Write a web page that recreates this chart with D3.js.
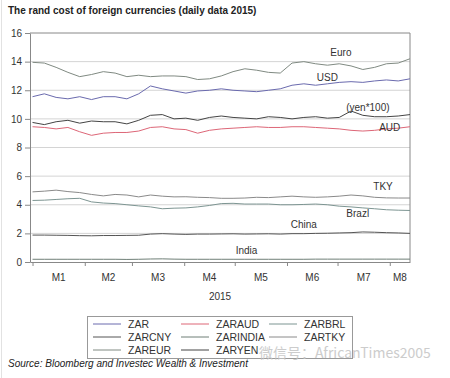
<!DOCTYPE html>
<html>
<head>
<meta charset="utf-8">
<script src="https://cdn.jsdelivr.net/npm/d3@7"></script>
<style>
  body { margin: 0; background: #fff; }
  svg { display: block; font-family: Arial, "Liberation Sans", sans-serif; }
</style>
</head>
<body>
<div id="chart"></div>
<script>
// weekly readings, 1 Jan 2015 .. 13 Aug 2015
const startDate = new Date(2015, 0, 1);
const dates = d3.range(33).map(i => d3.timeDay.offset(startDate, i * 7));
const months = ["M1", "M2", "M3", "M4", "M5", "M6", "M7", "M8"];
const yTicks = [0, 2, 4, 6, 8, 10, 12, 14, 16];

const zarEur = [13.95, 13.9, 13.6, 13.25, 12.95, 13.1, 13.3, 13.2, 12.95, 13.05, 12.95, 13.0, 13.0, 12.95, 12.75, 12.8, 13.0, 13.3, 13.5, 13.4, 13.25, 13.2, 13.9, 14.0, 13.85, 13.75, 13.85, 13.7, 13.45, 13.6, 13.85, 13.9, 14.2];
const zar = [11.55, 11.75, 11.5, 11.4, 11.55, 11.35, 11.55, 11.55, 11.4, 11.75, 12.3, 12.1, 11.95, 11.8, 11.95, 12.0, 12.1, 12.0, 11.95, 11.9, 12.0, 12.1, 12.35, 12.45, 12.35, 12.45, 12.55, 12.6, 12.55, 12.65, 12.72, 12.65, 12.8];
const zarYen = [9.75, 9.6, 9.8, 9.9, 9.7, 9.85, 9.8, 9.8, 9.65, 9.9, 10.25, 10.3, 10.0, 10.05, 9.9, 10.1, 10.2, 10.1, 10.05, 10.0, 10.15, 10.1, 10.0, 10.1, 10.15, 10.05, 10.1, 10.55, 10.25, 10.15, 10.15, 10.2, 10.3];
const zarAud = [9.45, 9.4, 9.3, 9.4, 9.1, 8.85, 9.0, 9.05, 9.05, 9.15, 9.4, 9.45, 9.3, 9.25, 9.0, 9.2, 9.3, 9.35, 9.4, 9.45, 9.4, 9.4, 9.45, 9.45, 9.4, 9.35, 9.3, 9.2, 9.15, 9.2, 9.3, 9.35, 9.45];
const zarTky = [4.9, 4.95, 5.02, 4.92, 4.85, 4.72, 4.62, 4.72, 4.68, 4.55, 4.68, 4.6, 4.55, 4.56, 4.52, 4.5, 4.45, 4.45, 4.47, 4.52, 4.5, 4.55, 4.6, 4.55, 4.52, 4.55, 4.6, 4.68, 4.62, 4.52, 4.48, 4.47, 4.47];
const zarBrl = [4.3, 4.32, 4.37, 4.42, 4.45, 4.2, 4.12, 4.08, 4.0, 3.92, 3.85, 3.72, 3.76, 3.78, 3.85, 3.95, 4.08, 4.1, 4.05, 4.05, 4.05, 4.0, 4.0, 4.02, 4.05, 4.0, 3.9, 3.85, 3.78, 3.72, 3.65, 3.62, 3.6];
const zarCny = [1.88, 1.88, 1.87, 1.86, 1.84, 1.83, 1.85, 1.85, 1.86, 1.87, 1.95, 1.98, 1.95, 1.93, 1.95, 1.95, 1.96, 1.97, 1.95, 1.96, 1.97, 1.95, 1.98, 1.98, 2.0, 2.01, 2.03, 2.05, 2.1, 2.08, 2.05, 2.03, 2.0];
const zarIndia = [0.19, 0.19, 0.19, 0.19, 0.19, 0.19, 0.19, 0.19, 0.18, 0.19, 0.21, 0.22, 0.2, 0.19, 0.19, 0.19, 0.19, 0.19, 0.19, 0.19, 0.19, 0.19, 0.19, 0.19, 0.2, 0.2, 0.2, 0.2, 0.2, 0.2, 0.2, 0.2, 0.2];

const series = [
  { key: "ZAR", values: zar, color: "#6a6aae" },
  { key: "ZARAUD", values: zarAud, color: "#dd6677" },
  { key: "ZARBRL", values: zarBrl, color: "#7d9592" },
  { key: "ZARCNY", values: zarCny, color: "#555" },
  { key: "ZARINDIA", values: zarIndia, color: "#6f7f77" },
  { key: "ZARTKY", values: zarTky, color: "#8a8a8a" },
  { key: "ZAREUR", values: zarEur, color: "#808a82" },
  { key: "ZARYEN", values: zarYen, color: "#444" }
];

// in-plot labels: [text, date, value]
const annotations = [
  ["Euro", new Date(2015, 6, 3), 14.63],
  ["USD", new Date(2015, 5, 25), 12.86],
  ["(yen*100)", new Date(2015, 6, 19), 10.78],
  ["AUD", new Date(2015, 7, 1), 9.38],
  ["TKY", new Date(2015, 6, 28), 5.31],
  ["Brazl", new Date(2015, 6, 13), 3.42],
  ["China", new Date(2015, 5, 11), 2.59],
  ["India", new Date(2015, 4, 8), 0.79]
];

const width = 450, height = 378;
const margin = { top: 33, right: 40, bottom: 116, left: 30 };

const svg = d3.select("#chart").append("svg")
  .attr("width", width)
  .attr("height", height);

svg.append("rect").attr("width", width).attr("height", height).attr("fill", "#fff");
svg.append("line")
  .attr("x1", 1.5).attr("x2", 1.5).attr("y1", 0).attr("y2", height)
  .attr("stroke", "#e2e2e2");

svg.append("text")
  .attr("x", 8).attr("y", 14)
  .attr("font-size", "10px")
  .attr("font-weight", "700")
  .attr("fill", "#222")
  .text("The rand cost of foreign currencies (daily data 2015)");

const x = d3.scaleTime()
  .domain([new Date(2014, 11, 30, 12), new Date(2015, 7, 13)])
  .range([margin.left, width - margin.right]);

const y = d3.scaleLinear()
  .domain([0, 16])
  .range([height - margin.bottom, margin.top]);

const plotL = margin.left, plotR = width - margin.right;
const plotT = margin.top, plotB = height - margin.bottom;

// grid
svg.append("g").selectAll("line")
  .data(yTicks.filter(d => d > 0 && d < 16))
  .join("line")
  .attr("x1", plotL).attr("x2", plotR)
  .attr("y1", d => y(d)).attr("y2", d => y(d))
  .attr("stroke", "#d4d4d4");

// frame top/right
svg.append("path")
  .attr("d", `M${plotL},${plotT}H${plotR}V${plotB}`)
  .attr("fill", "none")
  .attr("stroke", "#888");

const yAxis = svg.append("g")
  .attr("transform", `translate(${plotL},0)`)
  .call(d3.axisLeft(y).tickValues(yTicks).tickSize(5).tickPadding(3).tickSizeOuter(0));
yAxis.select(".domain").attr("stroke", "#888");
yAxis.selectAll(".tick line").attr("stroke", "#888");
yAxis.selectAll("text").attr("font-size", "10px").attr("fill", "#333").attr("font-family", "Arial, 'Liberation Sans', sans-serif");

const monthStarts = d3.range(8).map(i => new Date(2015, i, 1));
const xAxis = svg.append("g")
  .attr("transform", `translate(0,${plotB})`)
  .call(d3.axisBottom(x).tickValues(monthStarts).tickSize(4).tickFormat("").tickSizeOuter(0));
xAxis.select(".domain").attr("stroke", "#888");
xAxis.selectAll(".tick line").attr("stroke", "#888");

const domainEnd = x.domain()[1];
svg.append("g").selectAll("text")
  .data(months)
  .join("text")
  .attr("x", (d, i) => {
    const a = monthStarts[i];
    const b = i < 7 ? monthStarts[i + 1] : domainEnd;
    return (x(a) + x(b)) / 2;
  })
  .attr("y", plotB + 19)
  .attr("text-anchor", "middle")
  .attr("font-size", "10px")
  .attr("fill", "#333")
  .text(d => d);

svg.append("text")
  .attr("x", (plotL + plotR) / 2).attr("y", plotB + 38)
  .attr("text-anchor", "middle")
  .attr("font-size", "10px")
  .attr("fill", "#333")
  .text("2015");

const line = d3.line()
  .x((d, i) => x(dates[i]))
  .y(d => y(d));

svg.append("g").selectAll("path")
  .data(series)
  .join("path")
  .attr("d", s => line(s.values))
  .attr("fill", "none")
  .attr("stroke", s => s.color)
  .attr("stroke-width", 1);

svg.append("g").selectAll("text")
  .data(annotations)
  .join("text")
  .attr("x", d => x(d[1]))
  .attr("y", d => y(d[2]))
  .attr("dy", "0.35em")
  .attr("text-anchor", "middle")
  .attr("font-size", "10px")
  .attr("fill", "#333")
  .text(d => d[0]);

// legend
const legend = svg.append("g").attr("transform", "translate(87,316)");
legend.append("rect")
  .attr("x", 0.5).attr("y", 0.5)
  .attr("width", 265).attr("height", 42)
  .attr("fill", "#fff")
  .attr("stroke", "#999");

series.forEach((s, i) => {
  const col = i % 3, row = Math.floor(i / 3);
  const gx = 6 + col * 88, gy = 8 + row * 13;
  legend.append("line")
    .attr("x1", gx).attr("x2", gx + 28)
    .attr("y1", gy).attr("y2", gy)
    .attr("stroke", s.color);
  legend.append("text")
    .attr("x", gx + 35).attr("y", gy)
    .attr("dy", "0.35em")
    .attr("font-size", "10.5px")
    .attr("fill", "#333")
    .text(s.key);
});

svg.append("text")
  .attr("x", 8).attr("y", 367)
  .attr("font-size", "10px")
  .attr("font-style", "italic")
  .attr("fill", "#222")
  .text("Source: Bloomberg and Investec Wealth & Investment");

svg.append("text")
  .attr("x", 259).attr("y", 358)
  .attr("font-size", "14px")
  .attr("font-family", "'Noto Sans CJK SC', 'Noto Sans', sans-serif")
  .attr("fill", "#c4c4c4")
  .attr("opacity", 0.85)
  .text("微信号：AfricanTimes2005");
</script>
</body>
</html>
